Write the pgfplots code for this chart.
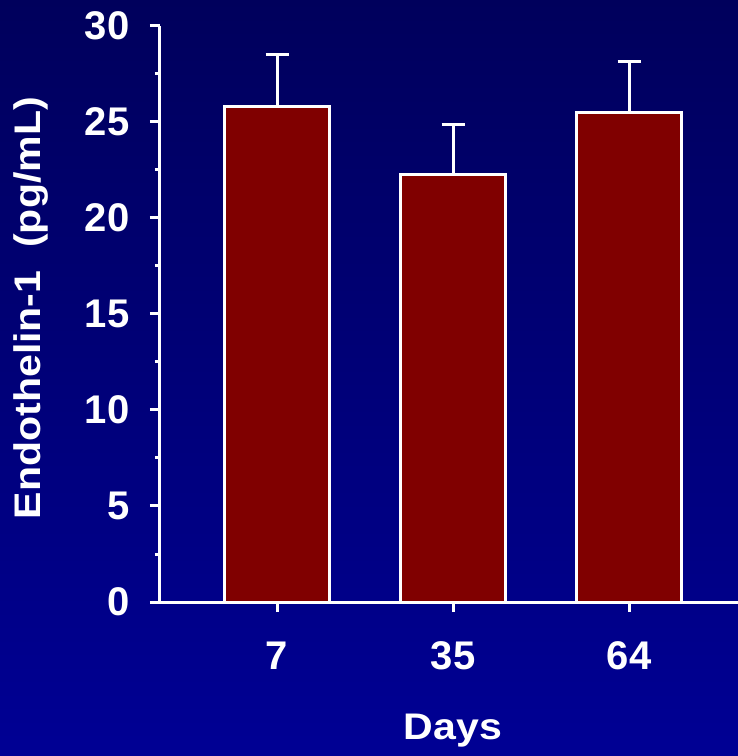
\documentclass[border=0pt]{standalone}
\usepackage{pgfplots}
\pgfplotsset{compat=1.18}
\usepackage{fontspec}
\setmainfont{Liberation Sans}
\newfontfamily\labelfont[FakeStretch=1.11]{Liberation Sans}
\definecolor{bgtop}{HTML}{00005C}
\definecolor{bgbot}{HTML}{000094}
\definecolor{barred}{HTML}{800000}
\pgfplotstableread{
x y e
0 25.79 2.70
1 22.28 2.61
2 25.49 2.65
}\datatable
\begin{document}
\begin{tikzpicture}[x=1pt,y=1pt]
\shade[top color=bgtop, bottom color=bgbot] (0,0) rectangle (738,756);
\begin{axis}[
  at={(160pt,154pt)}, anchor=south west,
  scale only axis, width=578pt, height=576pt,
  xmin=-0.665, xmax=2.619, ymin=0, ymax=30,
  axis x line=bottom, axis y line=left,
  axis line style={-, white, line width=3pt},
  xtick={0,1,2}, xticklabels={7,35,64},
  ytick={0,5,...,30}, minor y tick num=1,
  tick align=outside,
  major tick length=10pt, minor tick length=5pt,
  tick style={white, line width=3pt},
  /pgf/number format/assume math mode=true,
  tick label style={white, font=\bfseries\fontsize{40}{40}\selectfont},
  yticklabel style={xshift=-17pt},
  xticklabel style={yshift=-26pt},
  xlabel={Days}, ylabel={Endothelin-1\ \ (pg/mL)},
  label style={white, font=\labelfont\bfseries\fontsize{37}{37}\selectfont},
  xlabel style={at={(axis description cs:0.507,-0.224)}, anchor=center},
  ylabel style={at={(axis description cs:-0.224,0.51)}, anchor=center},
  clip=false,
]
\addplot[ybar, bar width=105pt, fill=barred, draw=white, line width=3pt,
  error bars/.cd, y dir=plus, y explicit,
  error bar style={white, line width=3pt},
  error mark options={rotate=90, white, mark size=11.5pt, line width=3pt}]
  table[x=x, y=y, y error=e] {\datatable};
\end{axis}
\pgfresetboundingbox
\useasboundingbox (0,0) rectangle (738,756);
\end{tikzpicture}
\end{document}
